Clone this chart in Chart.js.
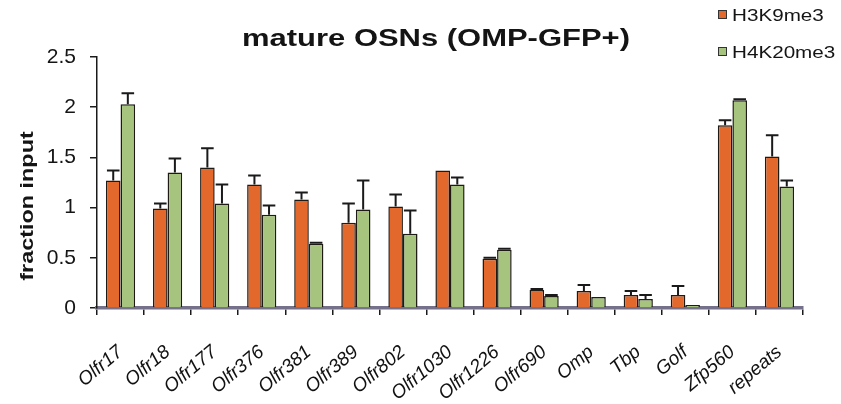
<!DOCTYPE html>
<html>
<head>
<meta charset="utf-8">
<script src="https://cdn.jsdelivr.net/npm/chart.js@4/dist/chart.umd.min.js"></script>
<style>
  html, body { margin: 0; padding: 0; background: #ffffff; }
  #wrap { width: 841px; height: 404px; position: relative; }
  canvas { display: block; }
</style>
</head>
<body>
<div id="wrap"><canvas id="chart" width="841" height="404"></canvas></div>
<script>
// Genes / loci on the x axis
const categories = ['Olfr17', 'Olfr18', 'Olfr177', 'Olfr376', 'Olfr381', 'Olfr389', 'Olfr802',
  'Olfr1030', 'Olfr1226', 'Olfr690', 'Omp', 'Tbp', 'Golf', 'Zfp560', 'repeats'];

// ChIP enrichment (fraction of input) with the upper error bar for each mark
const h3k9me3 = [1.27, 0.99, 1.40, 1.23, 1.08, 0.85, 1.01, 1.37, 0.49, 0.18, 0.17, 0.13, 0.13, 1.82, 1.51];
const h3k9me3Err = [0.10, 0.05, 0.19, 0.09, 0.07, 0.19, 0.12, 0.00, 0.01, 0.01, 0.06, 0.04, 0.09, 0.05, 0.21];
const h4k20me3 = [2.03, 1.35, 1.04, 0.93, 0.64, 0.98, 0.74, 1.23, 0.58, 0.12, 0.11, 0.09, 0.03, 2.07, 1.21];
const h4k20me3Err = [0.11, 0.14, 0.19, 0.09, 0.01, 0.29, 0.23, 0.07, 0.01, 0.01, 0.00, 0.04, 0.00, 0.01, 0.06];

const yTicks = [0, 0.5, 1, 1.5, 2, 2.5];
const seriesNames = ['H3K9me3', 'H4K20me3'];
const seriesColors = ['#e2682c', '#a6c47e'];
const errors = [h3k9me3Err, h4k20me3Err];

const FONT = '"Liberation Sans", Arial, Helvetica, sans-serif';
const STRETCH = 1.29;

// Draws text widened along its own baseline direction
function wideText(ctx, text, x, y, font, sx, align) {
  ctx.save();
  ctx.font = font;
  const w = ctx.measureText(text).width * sx;
  let x0 = x;
  if (align === 'center') x0 = x - w / 2;
  else if (align === 'right') x0 = x - w;
  ctx.translate(x0, y);
  ctx.scale(sx, 1);
  ctx.textAlign = 'left';
  ctx.textBaseline = 'alphabetic';
  ctx.fillText(text, 0, 0);
  ctx.restore();
}

// Upper error bars on top of each bar
const errorBars = {
  id: 'errorBars',
  afterDatasetsDraw(chart) {
    const ctx = chart.ctx;
    const y = chart.scales.y;
    ctx.save();
    ctx.strokeStyle = '#1a1a1a';
    ctx.lineWidth = 2;
    chart.data.datasets.forEach((ds, i) => {
      const meta = chart.getDatasetMeta(i);
      meta.data.forEach((bar, j) => {
        const e = errors[i][j];
        if (!e) return;
        const top = y.getPixelForValue(ds.data[j] + e);
        const half = bar.width / 2 - 1;
        ctx.beginPath();
        ctx.moveTo(bar.x, bar.y);
        ctx.lineTo(bar.x, top);
        ctx.moveTo(bar.x - half, top);
        ctx.lineTo(bar.x + half, top);
        ctx.stroke();
      });
    });
    ctx.restore();
  }
};

// Title, y-axis title and the legend box in the top right corner
const annotations = {
  id: 'annotations',
  afterDraw(chart) {
    const ctx = chart.ctx;
    ctx.save();
    ctx.fillStyle = '#141414';
    wideText(ctx, 'mature OSNs (OMP-GFP+)', 436, 46, 'bold 24px ' + FONT, STRETCH, 'center');

    // rotated axis title
    ctx.save();
    ctx.translate(33, 206);
    ctx.rotate(-Math.PI / 2);
    wideText(ctx, 'fraction input', 0, 0, 'bold 18px ' + FONT, 1.3, 'center');
    ctx.restore();

    // legend
    const rows = [21, 58];
    seriesNames.forEach((name, i) => {
      const by = rows[i] - 11;
      ctx.fillStyle = seriesColors[i];
      ctx.fillRect(718, by, 8, 8);
      ctx.strokeStyle = '#333';
      ctx.lineWidth = 1;
      ctx.strokeRect(718.5, by + 0.5, 8, 8);
      ctx.fillStyle = '#141414';
      wideText(ctx, name, 732, rows[i], '16px ' + FONT, STRETCH, 'left');
    });
    ctx.restore();
  }
};

new Chart(document.getElementById('chart'), {
  type: 'bar',
  data: {
    labels: categories,
    datasets: [
      {
        label: seriesNames[0],
        data: h3k9me3,
        backgroundColor: seriesColors[0],
        borderColor: '#1e1a16',
        borderWidth: 1.5,
        categoryPercentage: 0.62,
        barPercentage: 1.0
      },
      {
        label: seriesNames[1],
        data: h4k20me3,
        backgroundColor: seriesColors[1],
        borderColor: '#1e1a16',
        borderWidth: 1.5,
        categoryPercentage: 0.62,
        barPercentage: 1.0
      }
    ]
  },
  options: {
    responsive: false,
    animation: false,
    devicePixelRatio: 1,
    layout: { padding: { top: 57, right: 38, left: 0, bottom: 0 } },
    plugins: {
      legend: { display: false },
      title: { display: false },
      tooltip: { enabled: false }
    },
    scales: {
      x: {
        afterFit(scale) { scale.height = 96; },
        border: { display: true, color: '#75718a', width: 3.5 },
        grid: {
          display: true,
          drawOnChartArea: false,
          drawTicks: true,
          offset: true,
          tickLength: 7,
          color: '#1a1a1a',
          lineWidth: 1.5
        },
        ticks: {
          minRotation: 40,
          maxRotation: 40,
          autoSkip: false,
          padding: 26,
          color: '#111111',
          font: { family: FONT, size: 19, style: 'italic' }
        }
      },
      y: {
        min: 0,
        max: 2.5,
        afterFit(scale) { scale.width = 97; },
        afterBuildTicks(scale) { scale.ticks = yTicks.map(v => ({ value: v })); },
        border: { display: true, color: '#1a1a1a', width: 1.5 },
        grid: {
          display: true,
          drawOnChartArea: false,
          drawTicks: true,
          tickLength: 7,
          color: '#1a1a1a',
          lineWidth: 1.5
        },
        ticks: {
          padding: 14,
          color: '#141414',
          font: { family: FONT, size: 21 },
          callback: (v) => String(v)
        }
      }
    }
  },
  plugins: [errorBars, annotations]
});
</script>
</body>
</html>
